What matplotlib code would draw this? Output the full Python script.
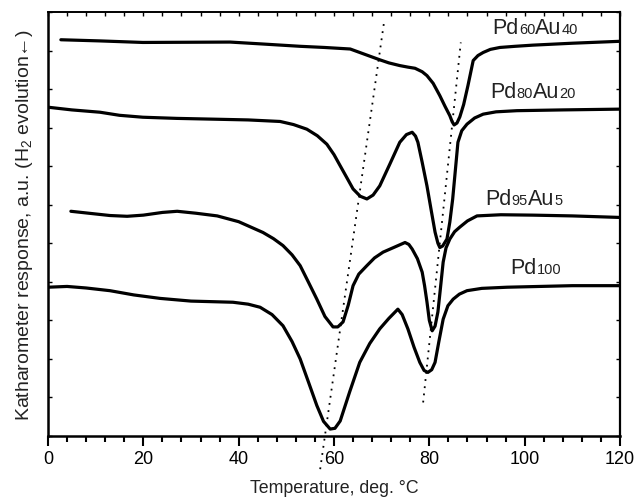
import matplotlib
matplotlib.use("Agg")
from matplotlib import pyplot as plt
from matplotlib.offsetbox import TextArea, HPacker, AnnotationBbox
import matplotlib.ticker as plticker

plt.rcParams['font.family'] = ['Liberation Sans', 'DejaVu Sans']

# temperature (deg C) and response (a.u.)
t_pd60 = [2.7, 10.9, 19.9, 38.2, 45, 52.9, 58, 63.4, 66.5, 69.6, 71.5, 73.8, 75.5, 77.0, 78.5, 79.5, 80.8,
          82.2, 83.3, 84.3, 84.8, 85.2, 85.8, 86.4, 87.2, 88.1, 89.2, 90.2, 91.3, 92.8, 94.8, 98, 101.7, 110, 120]
y_pd60 = [10.28, 10.25, 10.21, 10.22, 10.17, 10.11, 10.08, 10.04, 9.9, 9.76, 9.68, 9.61, 9.57, 9.54, 9.45, 9.35, 9.15,
          8.83, 8.55, 8.31, 8.15, 8.07, 8.12, 8.28, 8.6, 9.09, 9.74, 9.87, 9.95, 10.03, 10.08, 10.11, 10.14, 10.19, 10.24]

t_pd80 = [0, 5, 10.9, 15, 19.9, 27, 34.6, 42, 48.7, 51.5, 54.3, 56.5, 58.5, 60, 61.3, 62.7, 64.0, 65.5, 66.9, 68.2,
          69.6, 71.7, 73.8, 75.2, 76.4, 77.1, 77.6, 78.5, 79.5, 80.4, 81.2, 81.8, 82.2, 82.8, 83.7, 84.3, 84.9, 85.5,
          86.0, 86.8, 87.9, 89.5, 91.3, 94, 98.4, 108, 120]
y_pd80 = [8.53, 8.46, 8.40, 8.32, 8.27, 8.24, 8.22, 8.2, 8.16, 8.08, 7.96, 7.79, 7.57, 7.3, 7.01, 6.7, 6.41, 6.22, 6.15, 6.25,
          6.49, 7.05, 7.62, 7.82, 7.88, 7.78, 7.62, 7.1, 6.49, 5.85, 5.29, 5.0, 4.89, 4.93, 5.11, 5.55, 6.15, 6.95,
          7.62, 7.92, 8.09, 8.25, 8.35, 8.41, 8.44, 8.46, 8.48]

t_pd95 = [4.8, 10, 13, 16.6, 20, 24, 27.1, 31, 35.5, 40, 45.1, 47.3, 49.3, 51.2, 52.9, 54.6, 56.4, 58.1, 59.8, 60.8,
          61.9, 63, 64.0, 65.2, 66.9, 68.5, 70.3, 72.7, 74.9, 75.7, 76.4, 77.5, 78.5, 79.0, 79.5, 80.0, 80.6, 81.2,
          81.8, 82.3, 82.9, 83.5, 84.3, 85.3, 86.4, 88, 90.0, 95, 101.7, 110, 120]
y_pd95 = [5.83, 5.76, 5.72, 5.70, 5.73, 5.8, 5.83, 5.78, 5.71, 5.56, 5.28, 5.12, 4.94, 4.7, 4.42, 4.0, 3.55, 3.1, 2.83, 2.83,
          2.96, 3.4, 3.90, 4.2, 4.42, 4.62, 4.77, 4.9, 5.02, 4.97, 4.85, 4.6, 4.25, 3.9, 3.48, 3.0, 2.73, 2.85,
          3.22, 3.8, 4.51, 4.88, 5.11, 5.3, 5.42, 5.58, 5.71, 5.74, 5.73, 5.71, 5.67]

t_pd100 = [0, 4, 8, 13, 18, 23.5, 30, 38.8, 42, 44.5, 47, 49.3, 51.2, 52.9, 54.7, 56.4, 57.8, 59.2, 60.2, 61.3,
           63.3, 65.4, 67.5, 69.6, 71.5, 73.4, 74.3, 75.5, 76.8, 78.0, 78.9, 79.7, 80.5, 81.2, 82, 82.9, 83.9,
           85.0, 86.3, 87.9, 91, 96.3, 110, 120]
y_pd100 = [3.86, 3.88, 3.84, 3.77, 3.66, 3.57, 3.5, 3.47, 3.42, 3.34, 3.15, 2.86, 2.45, 2.0, 1.38, 0.79, 0.38, 0.18, 0.2, 0.39,
           1.15, 1.91, 2.4, 2.78, 3.05, 3.29, 3.15, 2.78, 2.3, 1.91, 1.7, 1.65, 1.72, 1.91, 2.45, 3.03, 3.38,
           3.55, 3.68, 3.77, 3.83, 3.86, 3.9, 3.90]

# dotted guide lines through the peak minima
guide1_t = [57.1, 70.5]
guide1_y = [-0.86, 10.74]
guide2_t = [78.7, 86.6]
guide2_y = [0.87, 10.21]

# labels: alternating main text / small digits, position
labels = [
    (["Pd", "60", "Au", "40"], 93.3, 10.61),
    (["Pd", "80", "Au", "20"], 92.7, 8.95),
    (["Pd", "95", "Au", "5"], 91.7, 6.15),
    (["Pd", "100"], 97.0, 4.38),
]

fig = plt.figure(figsize=(6.35, 5.02), dpi=100)
ax = fig.add_axes([48/635, 65/502, 572/635, 424/502])

for t, y in [(t_pd60, y_pd60), (t_pd80, y_pd80), (t_pd95, y_pd95), (t_pd100, y_pd100)]:
    ax.plot(t, y, color='black', lw=2.3, solid_joinstyle='round', solid_capstyle='round')

ax.plot(guide1_t, guide1_y, color='black', lw=1.3, linestyle=(0, (1, 3)), clip_on=False)
ax.plot(guide2_t, guide2_y, color='black', lw=1.3, linestyle=(0, (1, 3)), clip_on=False)

for parts, x, y in labels:
    areas = []
    for i, p in enumerate(parts):
        size = 15.5 if i % 2 == 0 else 10.5
        areas.append(TextArea(p, textprops=dict(size=size, color='#222222')))
    box = HPacker(children=areas, align='baseline', pad=0, sep=0)
    ab = AnnotationBbox(box, (x, y), xycoords='data', frameon=False, box_alignment=(0, 0.5), pad=0)
    ax.add_artist(ab)

ax.set_xlim(0, 120)
ax.set_ylim(0, 11)
ax.xaxis.set_major_locator(plticker.MultipleLocator(20))
ax.xaxis.set_minor_locator(plticker.MultipleLocator(4))
ax.yaxis.set_major_locator(plticker.MultipleLocator(1))
ax.set_yticklabels([])

ax.tick_params(axis='x', which='major', direction='out', length=7, width=1.5, labelsize=13, pad=3, top=False)
ax.tick_params(axis='x', which='minor', direction='out', length=4, width=1.5, top=False)
ax.tick_params(axis='y', which='major', direction='in', length=3, width=1, left=True, right=True)

# top axis carries short inner ticks
sec = ax.secondary_xaxis('top')
sec.xaxis.set_major_locator(plticker.MultipleLocator(4))
sec.tick_params(direction='in', length=3, width=1, labeltop=False)
sec.spines['top'].set_linewidth(1.2)

for s in ['left', 'bottom']:
    ax.spines[s].set_linewidth(1.8)
ax.spines['right'].set_linewidth(1.6)
ax.spines['top'].set_linewidth(1.2)

ax.set_xlabel("Temperature, deg. °C", fontsize=12.8, labelpad=9, color='#222222')
ax.set_ylabel(r"Katharometer response, a.u. (H$_\mathregular{2}$ evolution←)", fontsize=14, labelpad=6, color='#222222')

plt.savefig('out.png', dpi=100)
